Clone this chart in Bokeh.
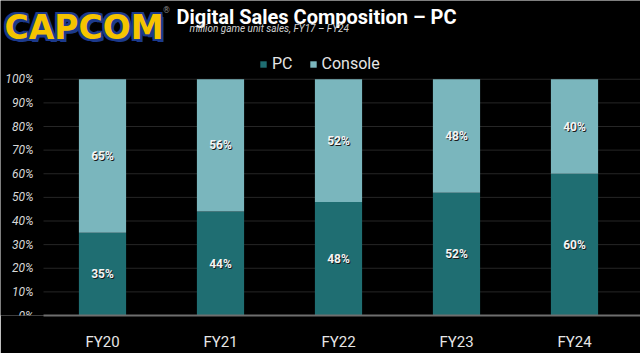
from bokeh.plotting import figure
from bokeh.models import (ColumnDataSource, Range1d, FixedTicker, Legend, LegendItem)
from bokeh.core.properties import value
from bokeh.embed import file_html
from bokeh.resources import INLINE

# ---- data ----
years = ["FY20", "FY21", "FY22", "FY23", "FY24"]
pc_share = [0.35, 0.44, 0.48, 0.52, 0.60]
console_share = [0.65, 0.56, 0.52, 0.48, 0.40]
y_ticks = [0.0, 0.1, 0.2, 0.3, 0.4, 0.5, 0.6, 0.7, 0.8, 0.9, 1.0]
title_text = "Digital Sales Composition – PC"
subtitle_text = "million game unit sales, FY17 – FY24"
logo_text = "CAPCOM"

PC_COLOR = "#1f6e72"
CONSOLE_COLOR = "#7ab6bd"
BG = "#000000"
FONT = "Roboto"

W, H = 640, 353
BOTTOM = 33
AX_LEFT = 43          # pixel where the value axis starts
XSTEP = 118.0         # pixels per category
YSCALE = 240.0        # pixels per 100 %
FRAME_H = H - BOTTOM


def dx(px):
    return (px - AX_LEFT) / XSTEP


def dy(py):
    return (FRAME_H - py) / YSCALE


x_end = dx(W)

p = figure(width=W, height=H, output_backend="svg", toolbar_location=None,
           x_range=Range1d(dx(0), x_end), y_range=Range1d(0, dy(0)),
           min_border_left=0, min_border_right=0, min_border_top=0,
           min_border_bottom=BOTTOM, background_fill_color=BG,
           border_fill_color=BG, outline_line_color=None,
           y_axis_location=None)
p.xgrid.visible = False
p.ygrid.visible = False

# value gridlines and labels (from y_ticks through the y scale)
tick_src = ColumnDataSource(dict(
    y=y_ticks, lbl=[f"{round(t*100)}%" for t in y_ticks],
    x0=[0.0] * len(y_ticks), x1=[x_end] * len(y_ticks),
    xl=[dx(33)] * len(y_ticks)))
p.segment(x0="x0", y0="y", x1="x1", y1="y", source=tick_src,
          line_color="#262626", line_width=1)
p.text(x="xl", y="y", text="lbl", source=tick_src, text_align="right",
       text_baseline="middle", text_font=value(FONT), text_font_style="italic",
       text_font_size="12px", text_color="#d8d8d8")

# bars
xs = [i + 0.5 for i in range(len(years))]
src = ColumnDataSource(dict(
    x=xs, year=years, pc=pc_share, console=console_share,
    top_all=[a + b for a, b in zip(pc_share, console_share)],
    pc_mid=[v / 2 for v in pc_share],
    con_mid=[a + b / 2 for a, b in zip(pc_share, console_share)],
    pc_lbl=[f"{round(v*100)}%" for v in pc_share],
    con_lbl=[f"{round(v*100)}%" for v in console_share],
))
pc_r = p.vbar(x="x", bottom=0, top="pc", width=0.4, source=src,
              fill_color=PC_COLOR, line_color=None)
con_r = p.vbar(x="x", bottom="pc", top="top_all", width=0.4, source=src,
               fill_color=CONSOLE_COLOR, line_color=None)

for col, ycol in (("pc_lbl", "pc_mid"), ("con_lbl", "con_mid")):
    p.text(x="x", y=ycol, text=col, source=src, text_align="center",
           text_baseline="middle", text_font=value(FONT), text_font_style="bold",
           text_font_size="12px", text_color="#1a1a1a", x_offset=1, y_offset=1)
    p.text(x="x", y=ycol, text=col, source=src, text_align="center",
           text_baseline="middle", text_font=value(FONT), text_font_style="bold",
           text_font_size="12px", text_color="#f4f4f4")

# category axis
p.xaxis.ticker = FixedTicker(ticks=xs)
p.xaxis.major_label_overrides = {x: y for x, y in zip(xs, years)}
p.xaxis.bounds = (0, x_end)
p.xaxis.major_tick_line_color = None
p.xaxis.minor_tick_line_color = None
p.xaxis.axis_line_color = "#6e6e6e"
p.xaxis.axis_line_width = 2
p.xaxis.major_label_text_color = "#e6e6e6"
p.xaxis.major_label_text_font = FONT
p.xaxis.major_label_text_font_size = "15px"
p.xaxis.major_label_standoff = 11

# legend
legend = Legend(items=[LegendItem(label="PC", renderers=[pc_r]),
                       LegendItem(label="Console", renderers=[con_r])],
                orientation="horizontal", location=(259, 242),
                background_fill_alpha=0, border_line_color=None,
                label_text_color="#e6e6e6", label_text_font=FONT,
                label_text_font_size="16px", glyph_width=8, glyph_height=8,
                label_standoff=5, spacing=16, padding=0, margin=0,
                label_height=18)
p.add_layout(legend)

# logo
lx, ly = dx(4), dy(27)
for ox, oy in [(-2, 0), (2, 0), (0, -2), (0, 2), (-2, -2), (2, 2), (-2, 2), (2, -2), (3, 3)]:
    p.text(x=[lx], y=[ly], text=[logo_text], x_offset=ox, y_offset=oy,
           text_color="#1c3a8c", text_font=value("DejaVu Sans"),
           text_font_style="bold", text_font_size="33px", text_baseline="alphabetic")
p.text(x=[lx], y=[ly], text=[logo_text], text_color="#f5c400",
       text_font=value("DejaVu Sans"), text_font_style="bold",
       text_font_size="33px", text_baseline="alphabetic")
p.text(x=[dx(162)], y=[dy(10)], text=["®"], text_color="#8a8a8a",
       text_font=value("DejaVu Sans"), text_font_size="8px", text_baseline="alphabetic")

# title & subtitle
p.text(x=[dx(176)], y=[dy(17)], text=[title_text], text_color="#ffffff",
       text_font=value(FONT), text_font_style="bold", text_font_size="20px",
       text_baseline="alphabetic")
p.text(x=[dx(189)], y=[dy(28)], text=[subtitle_text], text_color="#d0d0d0",
       text_font=value(FONT), text_font_style="italic", text_font_size="10px",
       text_baseline="alphabetic")

open("out.html", "w").write(file_html(p, INLINE))
